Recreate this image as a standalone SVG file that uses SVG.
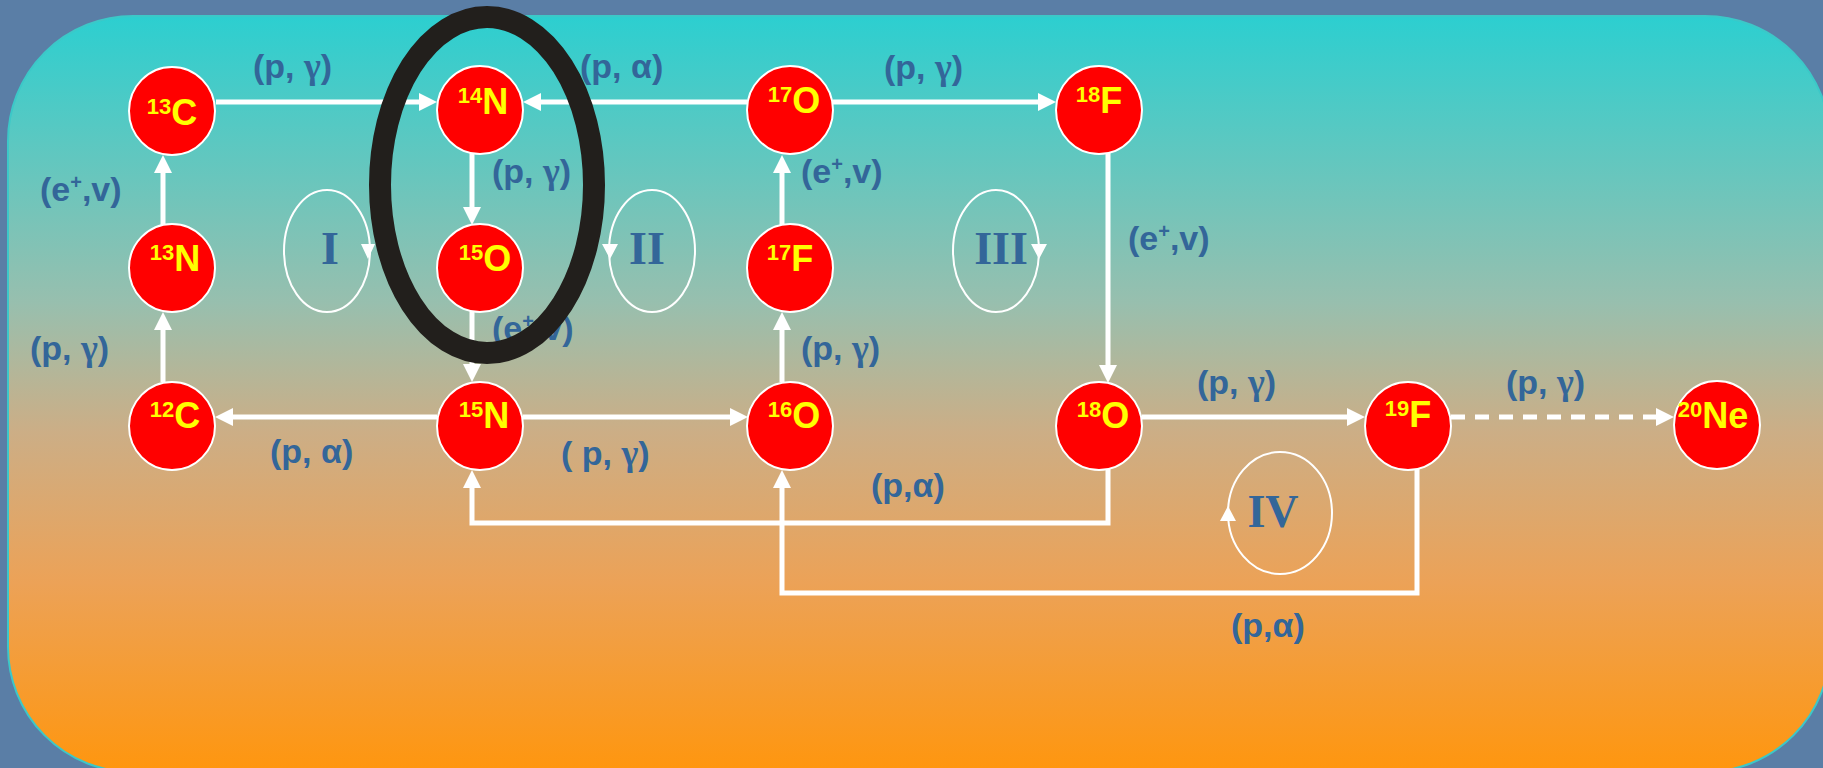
<svg xmlns="http://www.w3.org/2000/svg" width="1823" height="768" viewBox="0 0 1823 768">
<defs>
<linearGradient id="panel" x1="0" y1="0" x2="0" y2="1">
<stop offset="0" stop-color="#2ccfd0"/>
<stop offset="0.38" stop-color="#98bfae"/>
<stop offset="0.55" stop-color="#ccae86"/>
<stop offset="0.75" stop-color="#eca257"/>
<stop offset="1" stop-color="#ff960e"/>
</linearGradient>
<marker id="ah" markerUnits="userSpaceOnUse" markerWidth="18" markerHeight="18" viewBox="0 0 18 18" refX="8" refY="9" orient="auto">
<path d="M0,0 L18,9 L0,18 z" fill="#ffffff"/>
</marker>
<style>
.node{fill:#ff0000;stroke:#ffffff;stroke-width:2}
.nl{font-family:"Liberation Sans",Arial,sans-serif;font-weight:bold;font-size:36px;fill:#ffff00;text-anchor:middle}
.sup{font-size:22px}
.edge{fill:none;stroke:#ffffff;stroke-width:5;marker-end:url(#ah)}
.dash{stroke-dasharray:14 10}
.lbl{font-family:"Liberation Sans",Arial,sans-serif;font-weight:bold;font-size:34px;fill:#336699}
.g{font-family:"Liberation Serif","Times New Roman",serif;font-size:36px}
.lsup{font-size:20px}
.cyc{fill:none;stroke:#ffffff;stroke-width:2}
.cyca{fill:#ffffff}
.rom{font-family:"Liberation Serif","Times New Roman",serif;font-weight:bold;font-size:46px;fill:#336699;text-anchor:middle}
</style>
</defs>
<rect x="0" y="0" width="1823" height="768" fill="#5a7ea6"/>
<rect x="8" y="16" width="1822" height="756" rx="125" ry="125" fill="url(#panel)" stroke="#3cc8c8" stroke-width="2"/>

<g id="cycles">
<ellipse class="cyc" cx="327" cy="251" rx="43" ry="61"/>
<polygon class="cyca" points="361,244 375,244 368,259"/>
<text class="rom" x="330" y="264">I</text>
<ellipse class="cyc" cx="652" cy="251" rx="43" ry="61"/>
<polygon class="cyca" points="602,244 618,244 610,259"/>
<text class="rom" x="647" y="264">II</text>
<ellipse class="cyc" cx="996" cy="251" rx="43" ry="61"/>
<polygon class="cyca" points="1031,244 1047,244 1039,259"/>
<text class="rom" x="1001" y="264">III</text>
<ellipse class="cyc" cx="1280" cy="513" rx="52" ry="61"/>
<polygon class="cyca" points="1220,521 1236,521 1228,506"/>
<text class="rom" x="1273" y="527">IV</text>
</g>

<g id="connectors">
<path class="edge" d="M216,102 H427"/>
<path class="edge" d="M747,102 H533"/>
<path class="edge" d="M833,102 H1046"/>
<path class="edge" d="M472,153 V215"/>
<path class="edge" d="M163,225 V165"/>
<path class="edge" d="M782,225 V165"/>
<path class="edge" d="M1108,153 V373"/>
<path class="edge" d="M163,382 V322"/>
<path class="edge" d="M472,311 V372"/>
<path class="edge" d="M782,382 V322"/>
<path class="edge" d="M437,417 H225"/>
<path class="edge" d="M523,417 H738"/>
<path class="edge" d="M1142,417 H1355"/>
<path class="edge dash" d="M1451,417 H1664"/>
<path class="edge" d="M1108,469 V523 H472 V480"/>
<path class="edge" d="M1417,469 V593 H782 V480"/>
</g>

<g id="labels">
<text class="lbl" x="253" y="78">(p, <tspan class="g">γ</tspan>)</text>
<text class="lbl" x="580" y="78">(p, α)</text>
<text class="lbl" x="884" y="79">(p, <tspan class="g">γ</tspan>)</text>
<text class="lbl" x="40" y="201">(e<tspan class="lsup" dy="-12">+</tspan><tspan dy="12">,v)</tspan></text>
<text class="lbl" x="492" y="183">(p, <tspan class="g">γ</tspan>)</text>
<text class="lbl" x="801" y="183">(e<tspan class="lsup" dy="-12">+</tspan><tspan dy="12">,v)</tspan></text>
<text class="lbl" x="1128" y="250">(e<tspan class="lsup" dy="-12">+</tspan><tspan dy="12">,v)</tspan></text>
<text class="lbl" x="492" y="340">(e<tspan class="lsup" dy="-12">+</tspan><tspan dy="12">,v)</tspan></text>
<text class="lbl" x="30" y="360">(p, <tspan class="g">γ</tspan>)</text>
<text class="lbl" x="801" y="360">(p, <tspan class="g">γ</tspan>)</text>
<text class="lbl" x="270" y="463">(p, α)</text>
<text class="lbl" x="561" y="465">( p, <tspan class="g">γ</tspan>)</text>
<text class="lbl" x="871" y="497">(p,α)</text>
<text class="lbl" x="1197" y="394">(p, <tspan class="g">γ</tspan>)</text>
<text class="lbl" x="1506" y="394">(p, <tspan class="g">γ</tspan>)</text>
<text class="lbl" x="1231" y="637">(p,α)</text>
</g>

<g id="n13C"><ellipse class="node" cx="172" cy="111" rx="43" ry="44"/><text class="nl" x="172" y="125"><tspan class="sup" dy="-11">13</tspan><tspan dy="11">C</tspan></text></g>
<g id="n14N"><ellipse class="node" cx="480" cy="110" rx="43" ry="44"/><text class="nl" x="483" y="114"><tspan class="sup" dy="-11">14</tspan><tspan dy="11">N</tspan></text></g>
<g id="n17O"><ellipse class="node" cx="790" cy="110" rx="43" ry="44"/><text class="nl" x="794" y="113"><tspan class="sup" dy="-11">17</tspan><tspan dy="11">O</tspan></text></g>
<g id="n18F"><ellipse class="node" cx="1099" cy="110" rx="43" ry="44"/><text class="nl" x="1099" y="113"><tspan class="sup" dy="-11">18</tspan><tspan dy="11">F</tspan></text></g>
<g id="n13N"><ellipse class="node" cx="172" cy="268" rx="43" ry="44"/><text class="nl" x="175" y="271"><tspan class="sup" dy="-11">13</tspan><tspan dy="11">N</tspan></text></g>
<g id="n15O"><ellipse class="node" cx="480" cy="268" rx="43" ry="44"/><text class="nl" x="485" y="271"><tspan class="sup" dy="-11">15</tspan><tspan dy="11">O</tspan></text></g>
<g id="n17F"><ellipse class="node" cx="790" cy="268" rx="43" ry="44"/><text class="nl" x="790" y="271"><tspan class="sup" dy="-11">17</tspan><tspan dy="11">F</tspan></text></g>
<g id="n12C"><ellipse class="node" cx="172" cy="426" rx="43" ry="44"/><text class="nl" x="175" y="428"><tspan class="sup" dy="-11">12</tspan><tspan dy="11">C</tspan></text></g>
<g id="n15N"><ellipse class="node" cx="480" cy="426" rx="43" ry="44"/><text class="nl" x="484" y="428"><tspan class="sup" dy="-11">15</tspan><tspan dy="11">N</tspan></text></g>
<g id="n16O"><ellipse class="node" cx="790" cy="426" rx="43" ry="44"/><text class="nl" x="794" y="428"><tspan class="sup" dy="-11">16</tspan><tspan dy="11">O</tspan></text></g>
<g id="n18O"><ellipse class="node" cx="1099" cy="426" rx="43" ry="44"/><text class="nl" x="1103" y="428"><tspan class="sup" dy="-11">18</tspan><tspan dy="11">O</tspan></text></g>
<g id="n19F"><ellipse class="node" cx="1408" cy="426" rx="43" ry="44"/><text class="nl" x="1408" y="427"><tspan class="sup" dy="-11">19</tspan><tspan dy="11">F</tspan></text></g>
<g id="n20Ne"><ellipse class="node" cx="1717" cy="425" rx="43" ry="44"/><text class="nl" x="1713" y="428"><tspan class="sup" dy="-11">20</tspan><tspan dy="11">Ne</tspan></text></g>

<g id="highlight">
<ellipse cx="487" cy="185" rx="107" ry="168" fill="none" stroke="#221f1c" stroke-width="22"/>
</g>
</svg>
